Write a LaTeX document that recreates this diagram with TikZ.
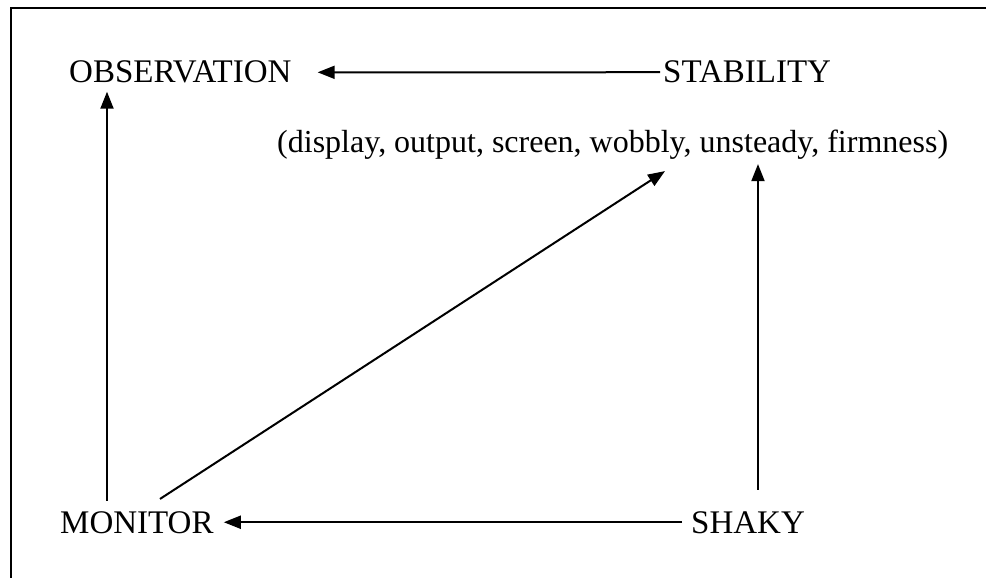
\documentclass[tikz,border=0pt]{standalone}
\usepackage{fontspec}
\setmainfont{Liberation Serif}
\usetikzlibrary{arrows.meta,positioning}

\begin{document}
\begin{tikzpicture}[x=1pt, y=-1pt,
    word/.style={inner sep=0pt, anchor=base west, font=\fontsize{33}{40}\selectfont},
    arr/.style={line width=2pt, -{Triangle[length=17pt, width=13pt]}}]
    % frame (cut off at right and bottom)
    \useasboundingbox (0,0) rectangle (986,578);
    \draw[line width=1.8pt] (986,8) -- (11,8) -- (11,578);

    % terms
    \node[word] (obs) at (69,83) {OBSERVATION};
    \node[word] (stab) at (663,83) {STABILITY};
    \node[word, font=\fontsize{32}{38}\selectfont] (par) at (277,152) {(display, output, screen, wobbly, unsteady, firmness)};
    \node[word] (mon) at (60,533) {MONITOR};
    \node[word] (shaky) at (691,533) {SHAKY};

    % links
    \draw[arr] ([xshift=-3pt]stab.west) -- ([xshift=26pt]obs.east);
    \draw[arr] ([xshift=-9pt]shaky.west) -- ([xshift=10pt]mon.east);
    \draw[arr] ([xshift=47pt,yshift=10pt]mon.north west) -- ([xshift=38pt,yshift=-8pt]obs.south west);
    \draw[arr] ([xshift=100pt,yshift=12pt]mon.north west) -- ([xshift=388pt,yshift=-12pt]par.south west);
    \draw[arr] ([xshift=67pt,yshift=21pt]shaky.north west) -- ([xshift=481pt,yshift=-5pt]par.south west);
\end{tikzpicture}
\end{document}
